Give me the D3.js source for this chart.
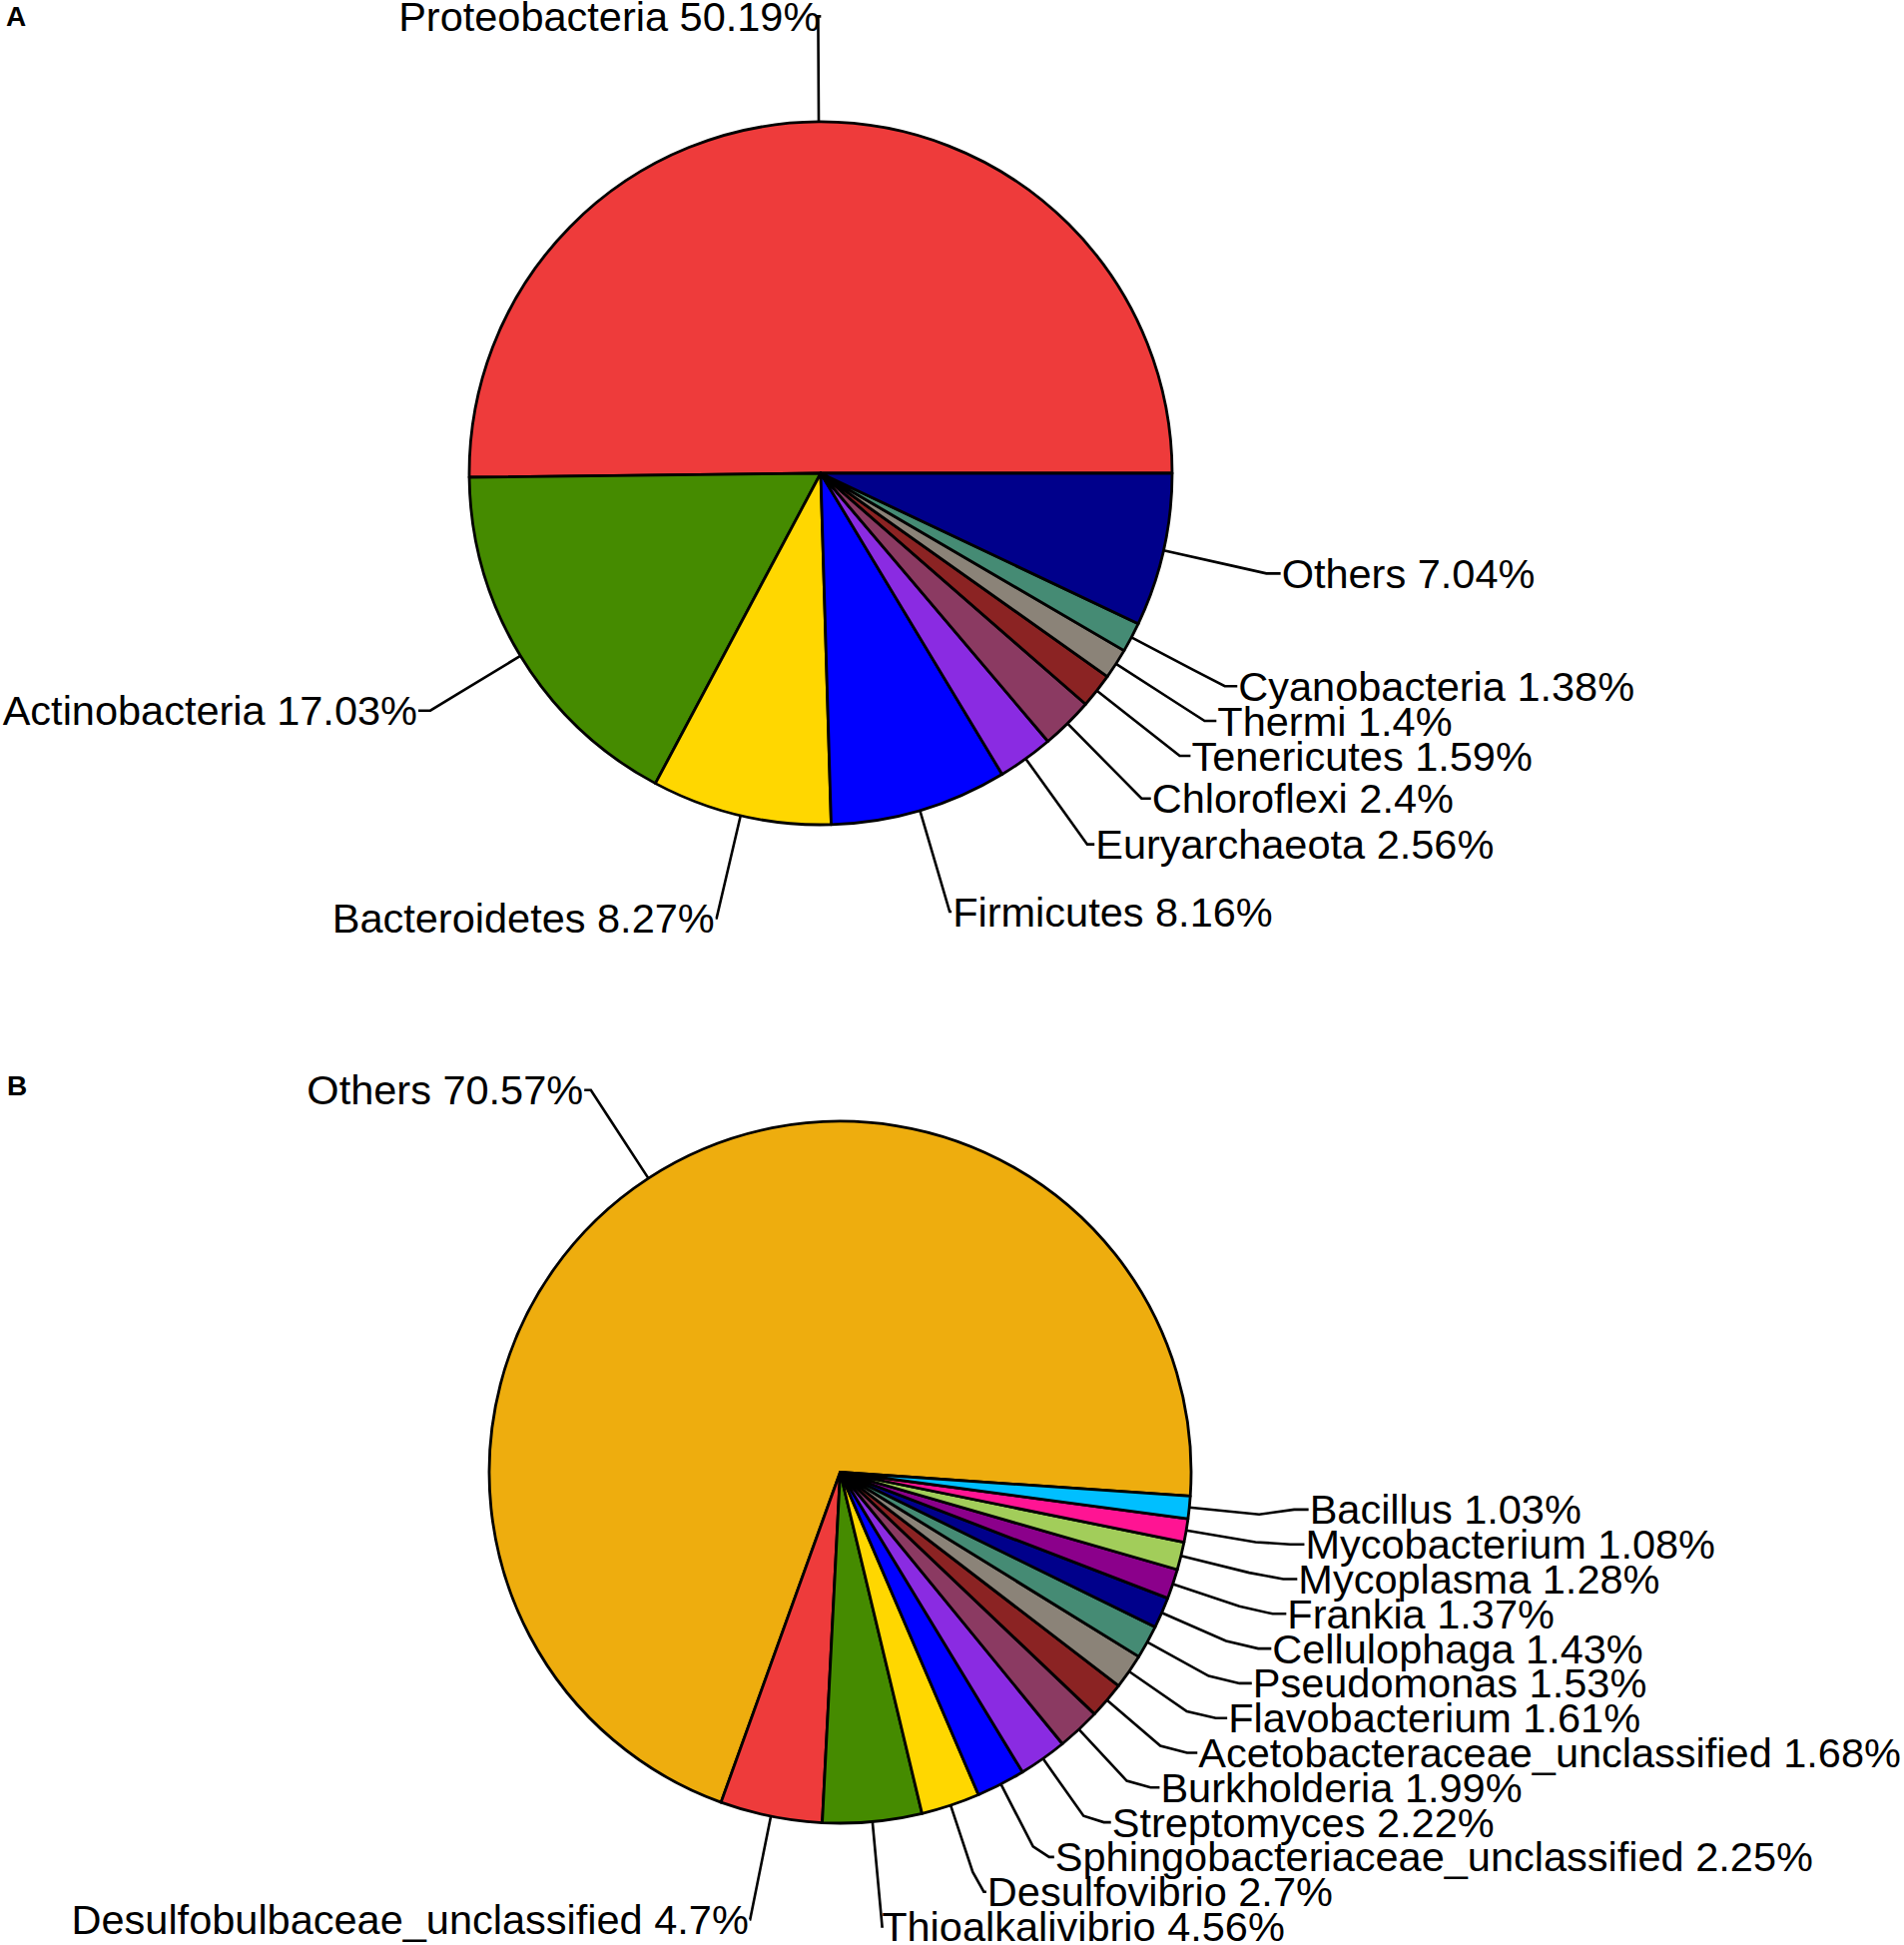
<!DOCTYPE html>
<html>
<head>
<meta charset="utf-8">
<script src="https://cdn.jsdelivr.net/npm/d3@7"></script>
<style>
  body { margin: 0; background: #fff; }
  svg { display: block; }
  text { font-family: "Liberation Sans", Arial, sans-serif; fill: #000; }
</style>
</head>
<body>
<svg id="chart"></svg>
<script>
// panel A: phylum level
const phylumNames = ["Proteobacteria", "Actinobacteria", "Bacteroidetes", "Firmicutes",
  "Euryarchaeota", "Chloroflexi", "Tenericutes", "Thermi", "Cyanobacteria", "Others"];
const phylumValues = [50.19, 17.03, 8.27, 8.16, 2.56, 2.4, 1.59, 1.4, 1.38, 7.04];
const phylumLabels = ["50.19%", "17.03%", "8.27%", "8.16%", "2.56%", "2.4%", "1.59%", "1.4%", "1.38%", "7.04%"];
const phylumColors = ["#EE3B3B", "#458B00", "#FFD700", "#0000FF", "#8A2BE2",
  "#8B3A62", "#8B2323", "#8B8378", "#458B74", "#00008B"];

// panel B: genus level
const genusNames = ["Others", "Desulfobulbaceae_unclassified", "Thioalkalivibrio", "Desulfovibrio",
  "Sphingobacteriaceae_unclassified", "Streptomyces", "Burkholderia", "Acetobacteraceae_unclassified",
  "Flavobacterium", "Pseudomonas", "Cellulophaga", "Frankia", "Mycoplasma", "Mycobacterium", "Bacillus"];
const genusValues = [70.57, 4.7, 4.56, 2.7, 2.25, 2.22, 1.99, 1.68, 1.61, 1.53, 1.43, 1.37, 1.28, 1.08, 1.03];
const genusLabels = ["70.57%", "4.7%", "4.56%", "2.7%", "2.25%", "2.22%", "1.99%", "1.68%",
  "1.61%", "1.53%", "1.43%", "1.37%", "1.28%", "1.08%", "1.03%"];
const genusColors = ["#EEAD0E", "#EE3B3B", "#458B00", "#FFD700", "#0000FF", "#8A2BE2",
  "#8B3A62", "#8B2323", "#8B8378", "#458B74", "#00008B", "#8B008B", "#A2CD5A", "#FF1493", "#00BFFF"];

const width = 1907;
const height = 1948;
const svg = d3.select("#chart").attr("width", width).attr("height", height);

const panels = [
  { letter: "A", lx: 6, ly: 26, cx: 822, cy: 474, r: 352, rot: 0,
    names: phylumNames, values: phylumValues, labels: phylumLabels, colors: phylumColors },
  { letter: "B", lx: 7, ly: 1097, cx: 841.5, cy: 1474.5, r: 351.5, rot: 3.9,
    names: genusNames, values: genusValues, labels: genusLabels, colors: genusColors }
];

panels.forEach(drawPanel);

function drawPanel(p) {
  svg.append("text")
    .attr("x", p.lx).attr("y", p.ly)
    .attr("font-size", 28).attr("font-weight", "bold")
    .text(p.letter);

  // slices run counter-clockwise from 3 o'clock, like base R pie()
  const start = Math.PI / 2 + p.rot * Math.PI / 180;
  const pie = d3.pie().sort(null).startAngle(start).endAngle(start - 2 * Math.PI);
  const arcs = pie(p.values);
  const arc = d3.arc().innerRadius(0).outerRadius(p.r);

  const g = svg.append("g").attr("transform", `translate(${p.cx},${p.cy})`);

  g.selectAll("path.slice")
    .data(arcs)
    .join("path")
    .attr("class", "slice")
    .attr("d", arc)
    .attr("fill", (d, i) => p.colors[i])
    .attr("stroke", "#000")
    .attr("stroke-width", 2.8)
    .attr("stroke-linejoin", "round");

  const at = (a, k) => [k * p.r * Math.sin(a), -k * p.r * Math.cos(a)];
  const items = arcs.map((d, i) => {
    const m = (d.startAngle + d.endAngle) / 2;
    const p13 = at(m, 1.3);
    return { i, m, right: Math.sin(m) >= 0, y: p13[1], ry: p13[1] };
  });

  // push labels up when they crowd, working from the bottom of each side
  const spacing = 34.8;
  [true, false].forEach((side) => {
    const s = items.filter((d) => d.right === side).sort((a, b) => b.ry - a.ry);
    for (let k = 1; k < s.length; k++) {
      s[k].y = Math.min(s[k].ry, s[k - 1].y - spacing);
    }
  });

  const sgn = (d) => (d.right ? 1 : -1);
  const line = d3.line();
  g.selectAll("path.leader")
    .data(items)
    .join("path")
    .attr("class", "leader")
    .attr("fill", "none")
    .attr("stroke", "#000")
    .attr("stroke-width", 2.6)
    .attr("d", (d) => line([
      at(d.m, 1.0), at(d.m, 1.2),
      [at(d.m, 1.3)[0], d.y],
      [at(d.m, 1.35)[0] - 3 * sgn(d), d.y]
    ]));

  g.selectAll("text.lab")
    .data(items)
    .join("text")
    .attr("class", "lab")
    .attr("font-size", 41.5)
    .attr("x", (d) => at(d.m, 1.35)[0] - 2 * sgn(d))
    .attr("y", (d) => d.y)
    .attr("dy", "0.35em")
    .attr("text-anchor", (d) => d.right ? "start" : "end")
    .text((d) => `${p.names[d.i]} ${p.labels[d.i]}`);
}
</script>
</body>
</html>
